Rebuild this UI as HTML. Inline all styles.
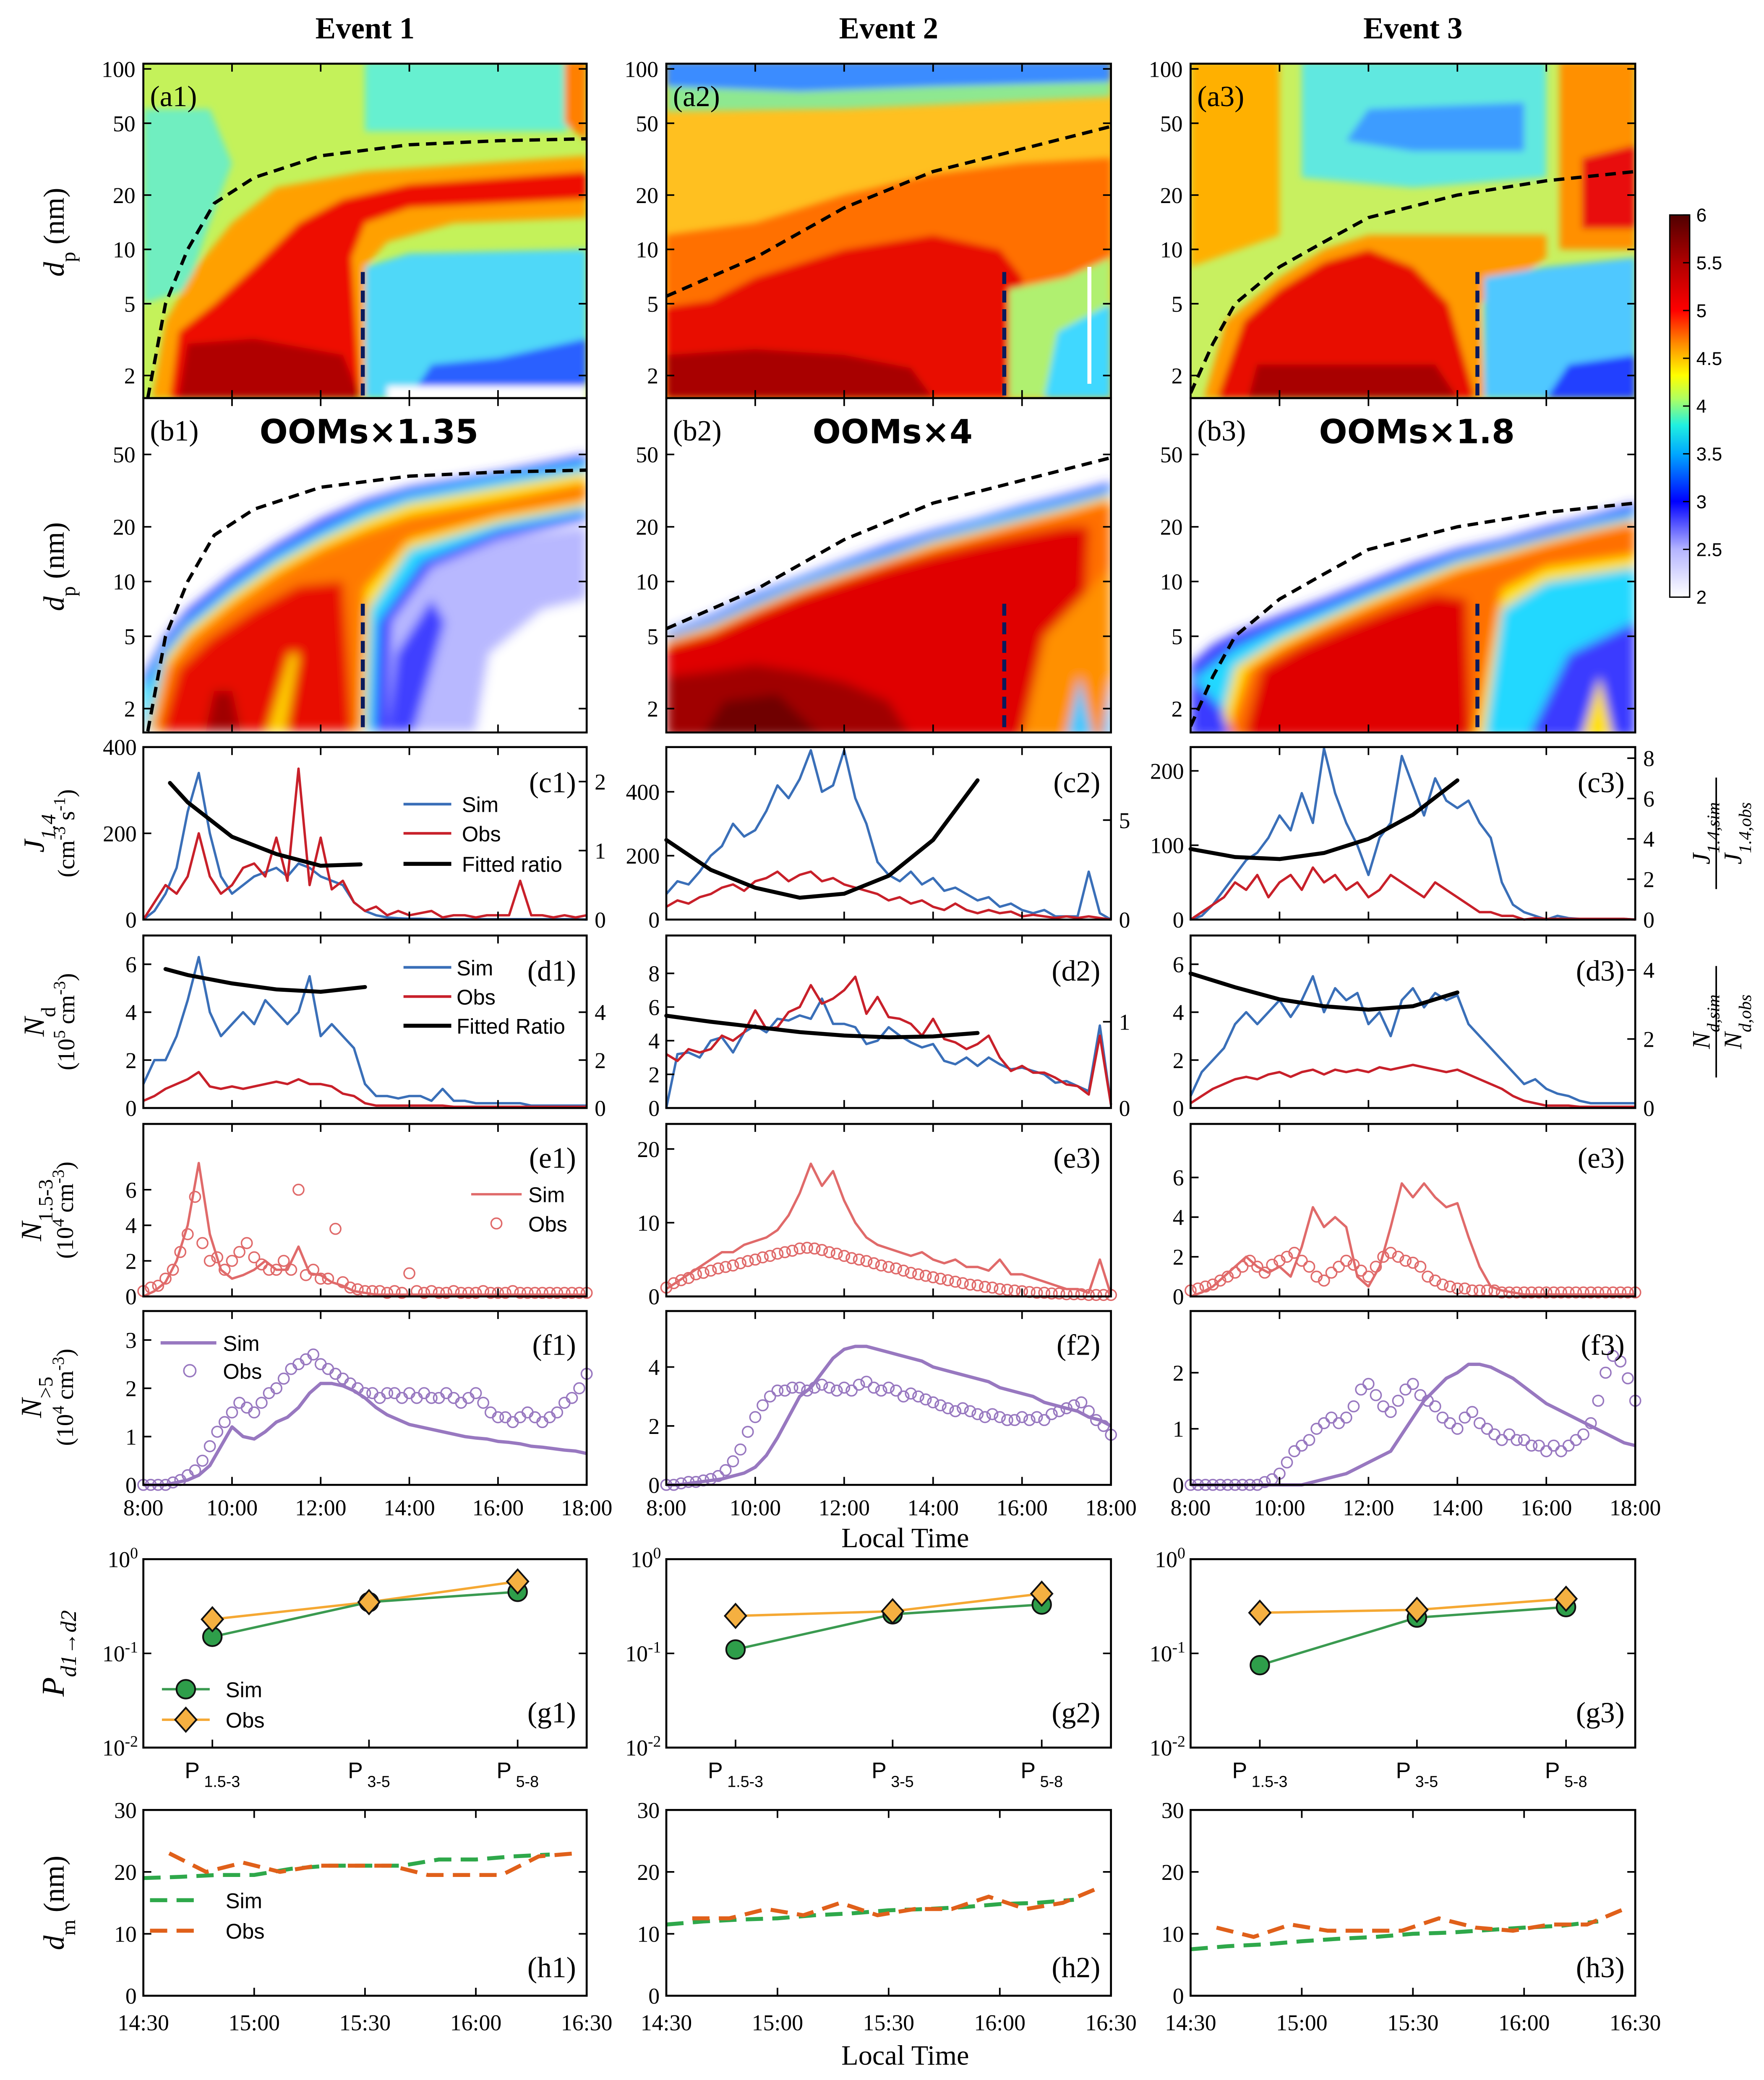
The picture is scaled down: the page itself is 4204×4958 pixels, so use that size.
<!DOCTYPE html>
<html><head><meta charset="utf-8"><title>NPF events figure</title>
<style>
html,body{margin:0;padding:0;background:#fff;}
svg{display:block;font-family:"Liberation Serif",serif;}
</style></head>
<body>
<svg id="fig" width="4204" height="4958" viewBox="0 0 1329 1567.5" preserveAspectRatio="none">
<defs>
<filter id="bl" x="-10%" y="-10%" width="120%" height="120%"><feGaussianBlur stdDeviation="2.5"/></filter>
<filter id="bl2" x="-10%" y="-10%" width="120%" height="120%"><feGaussianBlur stdDeviation="4"/></filter>
<linearGradient id="cbar" x1="0" y1="1" x2="0" y2="0">
<stop offset="0" stop-color="#ffffff"/><stop offset="0.125" stop-color="#b4b4ff"/><stop offset="0.25" stop-color="#0000ff"/>
<stop offset="0.375" stop-color="#00a8ff"/><stop offset="0.45" stop-color="#20f0e0"/><stop offset="0.52" stop-color="#b0ff60"/>
<stop offset="0.58" stop-color="#ffff00"/><stop offset="0.66" stop-color="#ff9000"/><stop offset="0.75" stop-color="#ff0000"/>
<stop offset="0.875" stop-color="#b00000"/><stop offset="1" stop-color="#500000"/></linearGradient>
</defs>
</svg>
<script>
// ---------------- data ----------------
const c1Sim=[0,20,60,120,250,340,200,100,60,80,100,110,120,100,130,120,100,90,80,40,20,10,5,3,2,2,1,1,1,1,1,1,1,1,1,1,1,1,1,1,0];
const c1Obs=[0,40,80,60,100,200,100,60,80,120,130,100,190,90,350,80,190,70,90,40,20,30,10,20,10,15,20,5,10,10,5,10,10,10,90,10,10,5,10,5,10];
const c1FitT=[8.6,9,10,11,12,12.9];
const c1Fit=[1.98,1.7,1.2,0.95,0.78,0.8];
const c2Sim=[80,120,110,150,200,230,300,260,280,340,420,380,440,530,400,420,530,380,300,180,140,120,150,110,130,90,100,80,60,70,40,50,30,20,30,10,10,10,150,20,0];
const c2Obs=[40,60,50,70,80,100,110,90,120,130,150,120,140,150,120,130,110,100,90,80,60,70,50,60,40,30,50,30,20,30,20,25,10,15,10,5,10,5,10,5,0];
const c2FitT=[8,9,10,11,12,13,14,15];
const c2Fit=[4.0,2.5,1.6,1.1,1.3,2.2,4.0,7.0];
const c3Sim=[0,5,20,40,60,80,90,110,140,120,170,130,230,170,130,100,60,110,130,220,180,140,190,160,150,160,130,110,50,20,10,5,0,5,2,1,1,1,1,1,0];
const c3Obs=[0,10,20,30,50,40,60,30,50,60,40,70,50,60,40,50,30,40,60,50,40,30,50,40,30,20,10,10,5,5,0,2,1,1,1,1,1,1,1,1,0];
const c3FitT=[8,9,10,11,12,13,14];
const c3Fit=[3.5,3.1,3.0,3.3,4.0,5.2,6.9];
const d1Sim=[1,2,2,3,4.5,6.3,4,3,3.5,4,3.5,4.5,4,3.5,4,5.5,3,3.5,3,2.5,1,0.5,0.5,0.4,0.5,0.5,0.3,0.8,0.3,0.3,0.2,0.2,0.2,0.2,0.2,0.1,0.1,0.1,0.1,0.1,0.1];
const d1Obs=[0.3,0.5,0.8,1.0,1.2,1.5,0.9,0.8,0.9,0.8,0.9,1.0,1.1,1.0,1.2,1.0,1.0,0.9,0.6,0.5,0.2,0.1,0.1,0.1,0.1,0.1,0.1,0.1,0.05,0.05,0.05,0.05,0.05,0.05,0.05,0.05,0.05,0.05,0.05,0.05,0.05];
const d1FitT=[8.5,9,10,11,12,13];
const d1Fit=[5.8,5.55,5.2,4.95,4.85,5.05];
const d2Sim=[0,3.2,3.3,3.0,4.0,4.2,3.3,4.5,4.9,4.5,5.3,5.2,5.5,5.3,6.5,5.0,5.0,4.8,3.8,4.0,4.8,4.3,3.9,3.6,3.8,2.8,2.6,3.0,2.5,3.0,2.6,2.3,2.4,2.2,2.0,1.5,1.6,1.3,1.0,4.9,0.2];
const d2Obs=[3.2,2.8,3.5,3.3,3.5,4.3,4.0,4.5,5.8,4.7,4.8,5.7,6.0,7.3,6.2,6.5,7.0,7.8,5.6,6.6,5.4,5.3,5.0,4.3,5.3,4.1,3.9,3.5,3.8,4.3,3.0,2.2,2.5,2.1,2.1,1.8,1.4,1.3,0.8,4.3,0.2];
const d2FitT=[8,9,10,11,12,13,14,15];
const d2Fit=[1.07,1.0,0.94,0.88,0.84,0.82,0.83,0.87];
const d3Sim=[0.5,1.5,2,2.5,3.5,4,3.5,4,4.5,3.8,4.5,5.5,4,5,4.5,4.8,3.5,4,3,4.5,5,4.2,4.8,4.5,4.7,3.5,3,2.5,2,1.5,1,1.2,0.8,0.6,0.5,0.3,0.2,0.2,0.2,0.2,0.2];
const d3Obs=[0.2,0.5,0.8,1.0,1.2,1.3,1.2,1.4,1.5,1.3,1.5,1.6,1.4,1.6,1.5,1.6,1.5,1.7,1.6,1.7,1.8,1.7,1.6,1.5,1.6,1.4,1.2,1.0,0.8,0.5,0.3,0.2,0.1,0.1,0.1,0.05,0.05,0.05,0.05,0.05,0.05];
const d3FitT=[8,9,10,11,12,13,14];
const d3Fit=[3.9,3.5,3.15,2.95,2.85,2.95,3.35];
const e1Sim=[0,0.3,0.8,2,4,7.5,3.5,1.5,1.0,1.2,1.5,2.0,1.5,1.5,2.8,1.3,1.2,0.8,0.6,0.3,0.2,0.1,0.1,0.1,0.1,0.1,0.1,0.1,0.1,0.1,0.1,0.1,0.1,0.1,0.1,0.1,0.1,0.1,0.1,0.1,0.1];
const e1Obs=[0.3,0.5,0.6,1.0,1.5,2.5,3.5,5.6,3.0,2.0,2.2,1.5,2.0,2.5,3.0,2.2,1.8,1.5,1.5,2.0,1.5,6.0,1.2,1.5,1.0,1.0,3.8,0.8,0.5,0.4,0.3,0.3,0.3,0.2,0.3,0.2,1.3,0.3,0.2,0.3,0.2,0.2,0.3,0.2,0.2,0.2,0.3,0.2,0.2,0.2,0.3,0.2,0.2,0.2,0.2,0.2,0.2,0.2,0.2,0.2,0.2];
const e2Sim=[1,2,3,4,5,6,6,7,7.5,8,9,11,14,18,15,17,13,10,8,7,6.5,6,5.5,6,5,4.5,5,4,4,3.5,5,3,3,2.5,2,1.5,1,1,0.5,5,0.2];
const e2Obs=[1.2,1.8,2.2,2.5,3.0,3.2,3.5,3.8,4.0,4.2,4.5,4.8,5.0,5.3,5.5,5.8,6.0,6.2,6.5,6.6,6.5,6.3,6.0,5.8,5.5,5.2,5.0,4.8,4.5,4.2,4.0,3.8,3.5,3.2,3.0,2.8,2.6,2.4,2.2,2.0,1.8,1.6,1.5,1.3,1.2,1.0,0.9,0.8,0.7,0.6,0.5,0.5,0.4,0.4,0.3,0.3,0.3,0.2,0.2,0.2,0.2];
const e3Sim=[0,0.2,0.5,1.0,1.5,2.0,1.5,1.2,1.5,1.0,2.5,4.5,3.5,4.0,3.5,1.0,0.5,1.5,3.5,5.7,5.0,5.7,5.0,4.5,4.7,3.0,1.5,0.5,0.3,0.2,0.1,0.1,0.1,0.1,0.1,0.1,0.1,0.1,0.1,0.1,0.1];
const e3Obs=[0.3,0.4,0.5,0.6,0.8,1.0,1.2,1.5,1.8,1.5,1.2,1.6,1.8,2.0,2.2,1.8,1.5,1.0,0.8,1.2,1.5,1.8,1.6,1.3,1.0,1.5,2.0,2.2,2.0,1.8,1.7,1.5,1.0,0.8,0.6,0.5,0.4,0.4,0.3,0.3,0.3,0.3,0.2,0.2,0.2,0.2,0.2,0.2,0.2,0.2,0.2,0.2,0.2,0.2,0.2,0.2,0.2,0.2,0.2,0.2,0.2];
const f1Sim=[0,0,0,0.05,0.1,0.2,0.4,0.8,1.2,1.0,0.95,1.1,1.3,1.4,1.6,1.9,2.1,2.1,2.05,1.95,1.8,1.6,1.45,1.35,1.25,1.2,1.15,1.1,1.05,1.0,0.97,0.95,0.9,0.88,0.85,0.8,0.78,0.75,0.72,0.7,0.65];
const f1Obs=[0,0,0,0,0.05,0.1,0.2,0.3,0.5,0.8,1.1,1.3,1.5,1.7,1.6,1.5,1.7,1.9,2.0,2.2,2.4,2.5,2.6,2.7,2.5,2.4,2.3,2.2,2.1,2.0,1.9,1.9,1.8,1.9,1.9,1.8,1.9,1.8,1.9,1.8,1.8,1.9,1.8,1.7,1.8,1.9,1.7,1.5,1.4,1.4,1.3,1.4,1.5,1.4,1.3,1.4,1.5,1.7,1.8,2.0,2.3];
const f2Sim=[0,0,0.05,0.1,0.15,0.2,0.3,0.4,0.6,1.0,1.6,2.3,3.0,3.3,3.8,4.3,4.6,4.7,4.7,4.6,4.5,4.4,4.3,4.2,4.0,3.9,3.8,3.7,3.6,3.5,3.3,3.2,3.1,3.0,2.8,2.7,2.6,2.5,2.3,2.2,2.0];
const f2Obs=[0,0,0.05,0.1,0.1,0.15,0.2,0.3,0.5,0.8,1.2,1.8,2.3,2.7,3.0,3.2,3.2,3.3,3.3,3.2,3.3,3.4,3.3,3.2,3.3,3.2,3.4,3.5,3.3,3.2,3.3,3.2,3.0,3.1,3.0,2.9,2.8,2.7,2.6,2.5,2.6,2.5,2.4,2.3,2.4,2.3,2.2,2.2,2.3,2.2,2.3,2.2,2.4,2.5,2.6,2.7,2.8,2.5,2.2,2.0,1.7];
const f3Sim=[0,0,0,0,0,0,0,0,0,0,0,0.05,0.1,0.15,0.2,0.3,0.4,0.5,0.6,0.9,1.2,1.5,1.7,1.9,2.0,2.15,2.15,2.1,2.0,1.9,1.75,1.6,1.45,1.35,1.25,1.15,1.05,0.95,0.85,0.75,0.7];
const f3Obs=[0,0,0,0,0,0,0,0,0,0,0.05,0.1,0.2,0.4,0.6,0.7,0.8,1.0,1.1,1.2,1.1,1.2,1.4,1.7,1.8,1.6,1.4,1.3,1.5,1.7,1.8,1.6,1.5,1.4,1.2,1.1,1.0,1.2,1.3,1.1,1.0,0.9,0.8,0.9,0.8,0.8,0.7,0.7,0.6,0.7,0.6,0.7,0.8,0.9,1.1,1.5,2.0,2.3,2.2,1.9,1.5];
const gCats=['1.5-3','3-5','5-8'];
const g1Sim=[0.15,0.35,0.45], g1Obs=[0.23,0.35,0.58];
const g2Sim=[0.11,0.26,0.33], g2Obs=[0.25,0.28,0.43];
const g3Sim=[0.075,0.24,0.31], g3Obs=[0.27,0.29,0.38];
const hMin=[5,15,25,35,45,55,65,75,85,95,105,115];
const h1Sim=[19,19.2,19.5,19.5,20.5,21,21,21,22,22,22.5,22.8];
const h1Obs=[23,20,21.5,20,21,21,21,19.5,19.5,19.5,22.5,23];
const h2Sim=[11.5,12,12.3,12.5,13,13.3,13.8,14,14.3,14.8,15,15.5];
const h2Obs=[12.5,12.5,14,13,15,13,14,14,16,14,15,17.5];
const h3Sim=[7.5,8,8.3,8.8,9.2,9.5,10,10.2,10.6,11,11.3,12];
const h3Obs=[11,9.5,11.5,10.5,10.5,10.5,12.5,11,10.5,11.5,11.5,14];
const fitCurveT=[[8.1,8.5,9,9.6,10.5,12,14,16,18],[8,10,12,14,16,18],[8,8.5,9,10,11,12,14,16,18]];
const fitCurveD=[[1.5,5,10,18,25,33,38,40,41],[5.5,9,17,27,36,48],[1.6,3,5,8,11,15,20,24,27]];
const markT=[12.95,15.6,14.45];

// ---------------- helpers ----------------
const svg=document.getElementById('fig');
const NS=svg.namespaceURI;
function mk(tag,attrs,name,parent){
  const el=document.createElementNS(NS,tag);
  for(const k in attrs) el.setAttribute(k,attrs[k]);
  
  
  (parent||svg).appendChild(el);return el;
}
function txt(x,y,s,name,opt){
  opt=opt||{};
  const a={x:x,y:y,'font-size':opt.size||17,'text-anchor':opt.anchor||'middle',fill:opt.fill||'#000'};
  if(opt.weight)a['font-weight']=opt.weight;
  if(opt.family)a['font-family']=opt.family;
  if(opt.style)a['font-style']=opt.style;
  if(opt.rot!==undefined)a.transform='rotate('+opt.rot+' '+x+' '+y+')';
  const t=mk('text',a,name,opt.parent);
  if(typeof s==='string'){t.textContent=s;}
  else{ s.forEach(p=>{const ts=document.createElementNS(NS,'tspan');ts.textContent=p[0];
    if(p[1]==='sub'){ts.setAttribute('baseline-shift','sub');ts.setAttribute('font-size',(opt.size||17)*0.7);}
    if(p[1]==='sup'){ts.setAttribute('baseline-shift','super');ts.setAttribute('font-size',(opt.size||17)*0.7);}
    if(p[1]==='i'){ts.setAttribute('font-style','italic');}
    if(p[1]==='isub'){ts.setAttribute('baseline-shift','sub');ts.setAttribute('font-size',(opt.size||17)*0.7);ts.setAttribute('font-style','italic');}
    t.appendChild(ts);});}
  return t;
}
const cols=[[108,442],[502,837],[897,1232]];
const tx=(c,t)=>cols[c][0]+(t-8)/10*(cols[c][1]-cols[c][0]);
const ya=d=>283-(Math.log10(d)-Math.log10(2))*136;
const yb=d=>534-(Math.log10(d)-Math.log10(2))*137;
function lin(top,bot,max){return v=>bot-v/max*(bot-top);}
function pathFrom(pts){return pts.map((p,i)=>(i?'L':'M')+p[0].toFixed(2)+','+p[1].toFixed(2)).join('');}

// ---------------- heatmaps ----------------
const heatA=[
 {base:'#c4f25a',layers:[
  ['#70eec0',[[8,5],[8,60],[9.5,60],[10,30],[9.4,12],[9,6]]],
  ['#66f0d0',[[13,45],[13,110],[18,110],[18,55],[17.5,45]]],
  ['#ff8000',[[17.5,50],[17.5,110],[18,110],[18,40]]],
  ['#ffa000',[[8.2,1.5],[8.5,4],[9.2,8],[10,14],[11,22],[13,27],[18,33],[18,15],[15,14],[13.5,11],[13,8],[13,1.5]]],
  ['#ee1000',[[8.6,1.5],[8.8,3.5],[9.6,5],[10.5,8],[11.5,14],[12.5,19],[14,23],[18,27],[18,19],[14,17],[13,14],[12.7,9],[12.9,1.5]]],
  ['#b00000',[[8.8,1.5],[9,3],[10.5,3.2],[12.5,2.6],[12.9,1.5]]],
  ['#50d8f8',[[13,1.5],[13,8],[14,9.5],[18,10],[18,1.5]]],
  ['#2a60ff',[[14,1.5],[14.5,2.3],[16,2.5],[18,3.2],[18,1.5]]],
  ['#ffffff',[[13.5,1.4],[13.5,1.75],[18,1.75],[18,1.4]]]]},
 {base:'#ffc020',layers:[
  ['#8ee890',[[8,58],[8,80],[11,75],[14,80],[18,85],[18,70],[12,60]]],
  ['#3a8cff',[[8,80],[8,110],[18,110],[18,85],[14,80],[11,75]]],
  ['#ff7000',[[8,1.5],[8,12],[10,14],[12,20],[14,26],[16,30],[18,32],[18,1.5]]],
  ['#e81000',[[8,1.5],[8,4.8],[9,5.2],[10,7],[12,10],[14,12],[15.5,10],[16,7],[16,1.5]]],
  ['#a80000',[[8,1.5],[8,2.6],[10,2.8],[12,2.6],[13.5,2.2],[14,1.5]]],
  ['#b0f070',[[15.7,1.5],[15.7,6],[17,7],[18,9],[18,1.5]]],
  ['#40d8ff',[[16.5,1.5],[16.8,3.5],[18,5],[18,1.5]]]]},
 {base:'#c8f060',layers:[
  ['#ffb000',[[8,8],[8,110],[10,110],[10,12]]],
  ['#60e8e0',[[10.5,25],[10.5,110],[16,110],[16,25],[13,22]]],
  ['#3c9cff',[[11.5,40],[12,60],[15.5,65],[15.5,35],[13,35]]],
  ['#ff9000',[[16.3,10],[16.3,110],[18,110],[18,10]]],
  ['#e81010',[[16.8,13],[16.8,32],[18,38],[18,13]]],
  ['#ff9a00',[[8.3,1.5],[8.8,4],[10,7],[11,10],[12,12],[14,12],[16,12],[16,9],[14.5,5],[14.6,1.5]]],
  ['#e81000',[[8.6,1.5],[9.2,4],[10,6],[11,8.5],[12,10],[13,8],[13.8,5],[14.4,1.5]]],
  ['#a80000',[[9.3,1.5],[9.5,2.3],[13.5,2.3],[14,1.5]]],
  ['#50c8ff',[[14.6,1.5],[14.6,7],[16,8],[18,9],[18,1.5]]],
  ['#2040ff',[[16,1.5],[16.5,2.3],[18,2.6],[18,1.5]]]]}
];
const heatB=[
 [['#b8b8ff',[[13,1.5],[13,12],[15,16],[18,20],[18,1.5]]],
  ['#ffffff',[[15.5,1.5],[15.8,4],[17,7],[18,8],[18,1.5]]],
  ['#3a3aff',[[8,1.5],[8,3],[8.5,5],[9,7],[10,11],[11,16],[12,22],[13,28],[14,33],[16,40],[18,50],[18,22],[16,17],[14.5,12],[13.6,6],[13.5,1.5]]],
  ['#20d8ff',[[8,1.5],[8,2.5],[8.5,4.3],[9,6],[10,9.5],[11,14],[12,19],[13,25],[14,30],[16,37],[18,45],[18,24],[16,19],[14.3,13],[13.3,6],[13.2,1.5]]],
  ['#ffe000',[[8.1,1.5],[8.5,3.8],[9,5.4],[10,8.5],[11,12.5],[12,17],[13,22],[14,27],[16,33],[18,40],[18,26],[16,21],[14,15],[13.1,7],[13,1.5]]],
  ['#ff7a00',[[8.2,1.5],[8.5,3.3],[9,4.8],[10,7.5],[11,11],[12,15],[13,19],[14,23],[16,28],[18,35],[18,28],[16,23],[14,17],[13,9],[12.9,1.5]]],
  ['#e80800',[[8.4,1.5],[8.8,3.3],[9.5,4.8],[10.5,7],[11.5,9.5],[12.5,10],[12.6,4],[12.7,1.5]]],
  ['#a00000',[[9.4,1.5],[9.6,2.5],[10,2.5],[10.2,1.5]]],
  ['#ffd000',[[10.8,1.5],[11.3,4],[11.5,4],[11.2,1.5]]],
  ['#4040ff',[[13.5,1.5],[13.7,4],[14.5,8],[14.8,6],[14.1,1.5]]]],
 [['#3a3aff',[[8,5.3],[9,6.5],[10,8.5],[11,10.5],[12,13],[13,16],[14,19],[15,22],[16,26],[17,30],[18,35],[18,1.4],[8,1.4]]],
  ['#20d8ff',[[8,5],[9,6],[10,7.8],[11,9.8],[12,12],[13,14.5],[14,17.5],[15,20.5],[16,24],[17,27.5],[18,32],[18,1.4],[8,1.4]]],
  ['#ffe000',[[8,4.8],[9,5.7],[10,7.3],[11,9.2],[12,11.2],[13,13.5],[14,16.5],[15,19],[16,22],[17,25.5],[18,30],[18,1.4],[8,1.4]]],
  ['#ff7000',[[8,4.6],[9,5.4],[10,7],[11,8.8],[12,10.7],[13,13],[14,15.5],[15,18],[16,21],[17,24],[18,28],[18,1.4],[8,1.4]]],
  ['#e00000',[[8,4.4],[9,5.1],[10,6.6],[11,8.3],[12,10],[13,12],[14,14],[15,16],[16,18],[17,20],[17.5,20],[17.3,1.4],[8,1.4]]],
  ['#a00000',[[8,1.4],[8,3],[9,3.2],[10,3.5],[11,3.2],[12,2.8],[13,2.2],[13.5,1.4]]],
  ['#700000',[[8.8,1.4],[9.3,2.2],[10.5,2.4],[11.5,1.4]]],
  ['#ff9000',[[16,1.4],[16.5,5],[17.3,8],[18,12],[18,1.4]]],
  ['#40c8ff',[[17,1.4],[17.3,3],[17.6,1.4]]],
  ['#40c8ff',[[17.8,1.4],[18,3],[18,1.4]]]],
 [['#3a3aff',[[8,3.5],[8.5,4.5],[9,5.2],[10,6.5],[11,8],[12,10],[13,12.5],[14,15],[15,17],[16,20],[17,23],[18,27],[18,1.4],[8,1.4]]],
  ['#20d8ff',[[8,2.8],[8.5,3.5],[9,4.3],[10,5.6],[11,7],[12,8.8],[13,11],[14,13.5],[15,15.5],[16,18],[17,21],[18,24],[18,1.4],[8.3,1.4]]],
  ['#ffe000',[[8.6,1.4],[9,3.4],[10,4.8],[11,6.2],[12,8],[13,10],[14,12.5],[15,14.5],[16,17],[17,19.5],[18,22],[18,12],[16,10],[15,7],[14.6,1.4]]],
  ['#ff7000',[[8.8,1.4],[9.3,3.3],[10,4.3],[11,5.7],[12,7.3],[13,9.2],[14,11.5],[15,13.5],[16,16],[17,18.5],[18,21],[18,14],[16,12],[15,9],[14.4,1.4]]],
  ['#e00000',[[9.2,1.4],[9.6,3.3],[10.5,4.4],[11.5,5.6],[12.5,7],[13.5,8.5],[14.2,8],[14.3,1.4]]],
  ['#20d8ff',[[14.6,1.4],[15,6],[16,9],[18,11],[18,8],[16.5,6],[15.5,1.4]]],
  ['#3a3aff',[[15.6,1.4],[16.5,4],[18,6],[18,1.4]]],
  ['#ffe000',[[16.8,1.4],[17.2,3],[17.5,1.4]]],
  ['#3a3aff',[[8,1.4],[8,3],[8.7,2],[8.9,1.4]]]]
];

function heatPanel(c,row){
  const x0=cols[c][0],x1=cols[c][1];
  const top=row==='a'?48:300,bot=row==='a'?300:552;
  const yf=row==='a'?ya:yb;
  const cp=mk('clipPath',{id:'clip'+row+c},'clip',svg.querySelector('defs'));
  mk('rect',{x:x0,y:top,width:x1-x0,height:bot-top},'clip-rect',cp);
  const g=mk('g',{'clip-path':'url(#clip'+row+c+')'},'heatmap-'+row+(c+1));
  if(row==='a'){
    mk('rect',{x:x0,y:top,width:x1-x0,height:bot-top,fill:heatA[c].base},'heatmap-background',g);
  }
  const inner=mk('g',{filter:row==='a'?'url(#bl)':'url(#bl2)'},'heatmap-layers',g);
  const L=row==='a'?heatA[c].layers:heatB[c];
  L.forEach(l=>{
    mk('path',{d:pathFrom(l[1].map(p=>[tx(c,p[0]),yf(p[1])]))+'Z',fill:l[0]},'heatmap-region',inner);
  });
  if(row==='a'&&c===1){
    mk('rect',{x:tx(1,17.47),y:ya(8),width:3,height:ya(1.8)-ya(8),fill:'#fff'},'data-gap',g);
  }
  // growth curve
  const pts=fitCurveT[c].map((t,i)=>[tx(c,t),yf(fitCurveD[c][i])]);
  mk('path',{d:pathFrom(pts),fill:'none',stroke:'#000','stroke-width':2.5,'stroke-dasharray':'8,5'},'growth-curve',g);
  // marker line
  mk('line',{x1:tx(c,markT[c]),x2:tx(c,markT[c]),y1:row==='a'?205:455,y2:bot,stroke:'#0a1a5c','stroke-width':3,'stroke-dasharray':'9,5'},'time-marker',g);
  // frame
  mk('rect',{x:x0,y:top,width:x1-x0,height:bot-top,fill:'none',stroke:'#000','stroke-width':1.5},'panel-frame');
  // ticks
  const ticksD=row==='a'?[2,5,10,20,50,100]:[2,5,10,20,50];
  ticksD.forEach(d=>{
    const y=yf(d);
    mk('line',{x1:x0,x2:x0+6,y1:y,y2:y,stroke:'#000','stroke-width':1.2},'y-tick');
    mk('line',{x1:x1,x2:x1-6,y1:y,y2:y,stroke:'#000','stroke-width':1.2},'y-tick');
    txt(x0-6,y+6,String(d),'y-tick-label',{anchor:'end'});
  });
  [10,12,14,16].forEach(t=>{
    mk('line',{x1:tx(c,t),x2:tx(c,t),y1:bot,y2:bot-6,stroke:'#000','stroke-width':1.2},'x-tick');
    mk('line',{x1:tx(c,t),x2:tx(c,t),y1:top,y2:top+6,stroke:'#000','stroke-width':1.2},'x-tick');
  });
  txt(x0+5,top+32,'('+row+(c+1)+')','panel-label',{anchor:'start',size:22});
}
for(let c=0;c<3;c++){heatPanel(c,'a');heatPanel(c,'b');}
['OOMs×1.35','OOMs×4','OOMs×1.8'].forEach((s,c)=>{
  txt((cols[c][0]+cols[c][1])/2+3,334,s,'ooms-factor-title',{size:25,weight:'bold',family:'"DejaVu Sans",sans-serif'});
});

// ---------------- line panels ----------------
function frame(c,top,bot){
  mk('rect',{x:cols[c][0],y:top,width:cols[c][1]-cols[c][0],height:bot-top,fill:'none',stroke:'#000','stroke-width':1.5},'panel-frame');
}
function xTicks(c,top,bot,labels){
  [8,10,12,14,16,18].forEach(t=>{
    const x=tx(c,t);
    mk('line',{x1:x,x2:x,y1:bot,y2:bot-6,stroke:'#000','stroke-width':1.2},'x-tick');
    mk('line',{x1:x,x2:x,y1:top,y2:top+6,stroke:'#000','stroke-width':1.2},'x-tick');
    if(labels) txt(x,bot+23,t+':00','x-tick-label');
  });
}
function yTicks(c,top,bot,max,vals,side){
  const f=lin(top,bot,max);
  vals.forEach(v=>{
    const y=f(v);
    if(side==='left'){
      mk('line',{x1:cols[c][0],x2:cols[c][0]+6,y1:y,y2:y,stroke:'#000','stroke-width':1.2},'y-tick');
      txt(cols[c][0]-5,y+6,String(v),'y-tick-label',{anchor:'end'});
    } else {
      mk('line',{x1:cols[c][1],x2:cols[c][1]-6,y1:y,y2:y,stroke:'#000','stroke-width':1.2},'y-tick-right');
      txt(cols[c][1]+6,y+6,String(v),'y-tick-label-right',{anchor:'start'});
    }
  });
}
function series(c,arr,top,bot,max,color,w,name){
  const f=lin(top,bot,max);
  const pts=arr.map((v,i)=>[tx(c,8+i*10/(arr.length-1)),f(v)]);
  mk('path',{d:pathFrom(pts),fill:'none',stroke:color,'stroke-width':w,'stroke-linejoin':'round'},name);
}
function seriesT(c,ts,arr,top,bot,max,color,w,name){
  const f=lin(top,bot,max);
  const pts=arr.map((v,i)=>[tx(c,ts[i]),f(v)]);
  mk('path',{d:pathFrom(pts),fill:'none',stroke:color,'stroke-width':w,'stroke-linecap':'round'},name);
}
function circles(c,arr,top,bot,max,color,name){
  const f=lin(top,bot,max);
  arr.forEach((v,i)=>{
    mk('circle',{cx:tx(c,8+i*10/(arr.length-1)),cy:f(v),r:4,fill:'none',stroke:color,'stroke-width':1.1},name);
  });
}
const BL='#3a6fb8',RD='#c8202a',PK='#e06a6a',PU='#9878c0';
// c row
const cRow=[[c1Sim,c1Obs,c1FitT,c1Fit,400,[0,200,400],2.5,[0,1,2]],[c2Sim,c2Obs,c2FitT,c2Fit,540,[0,200,400],8.67,[0,5]],[c3Sim,c3Obs,c3FitT,c3Fit,232,[0,100,200],8.55,[0,2,4,6,8]]];
cRow.forEach((r,c)=>{
  const top=563,bot=693;
  series(c,r[0],top,bot,r[4],BL,1.8,'j-sim-line');
  series(c,r[1],top,bot,r[4],RD,1.8,'j-obs-line');
  seriesT(c,r[2],r[3],top,bot,r[6],'#000',3,'j-fitted-ratio-line');
  frame(c,top,bot);xTicks(c,top,bot,false);
  yTicks(c,top,bot,r[4],r[5],'left');yTicks(c,top,bot,r[6],r[7],'right');
  txt(cols[c][1]-8,597,'(c'+(c+1)+')','panel-label',{anchor:'end',size:22});
});
// d row
const dRow=[[d1Sim,d1Obs,d1FitT,d1Fit,7.2,[0,2,4,6],7.2,[0,2,4]],[d2Sim,d2Obs,d2FitT,d2Fit,10.25,[0,2,4,6,8],2.0,[0,1]],[d3Sim,d3Obs,d3FitT,d3Fit,7.2,[0,2,4,6],5.0,[0,2,4]]];
dRow.forEach((r,c)=>{
  const top=705,bot=835;
  series(c,r[0],top,bot,r[4],BL,1.8,'nd-sim-line');
  series(c,r[1],top,bot,r[4],RD,1.8,'nd-obs-line');
  seriesT(c,r[2],r[3],top,bot,r[6],'#000',3,'nd-fitted-ratio-line');
  frame(c,top,bot);xTicks(c,top,bot,false);
  yTicks(c,top,bot,r[4],r[5],'left');yTicks(c,top,bot,r[6],r[7],'right');
  txt(cols[c][1]-8,739,'(d'+(c+1)+')','panel-label',{anchor:'end',size:22});
});
// e row
const eRow=[[e1Sim,e1Obs,9.7,[0,2,4,6]],[e2Sim,e2Obs,23.4,[0,10,20]],[e3Sim,e3Obs,8.7,[0,2,4,6]]];
eRow.forEach((r,c)=>{
  const top=847,bot=977;
  circles(c,r[1],top,bot,r[2],PK,'n13-obs-marker');
  series(c,r[0],top,bot,r[2],PK,1.8,'n13-sim-line');
  frame(c,top,bot);xTicks(c,top,bot,false);
  yTicks(c,top,bot,r[2],r[3],'left');
  txt(cols[c][1]-8,880,c===0?'(e1)':'(e3)','panel-label',{anchor:'end',size:22});
});
// f row
const fRow=[[f1Sim,f1Obs,3.6,[0,1,2,3]],[f2Sim,f2Obs,5.9,[0,2,4]],[f3Sim,f3Obs,3.1,[0,1,2]]];
fRow.forEach((r,c)=>{
  const top=988,bot=1119;
  circles(c,r[1],top,bot,r[2],PU,'n5-obs-marker');
  series(c,r[0],top,bot,r[2],PU,2.5,'n5-sim-line');
  frame(c,top,bot);xTicks(c,top,bot,true);
  yTicks(c,top,bot,r[2],r[3],'left');
  txt(cols[c][1]-8,1021,'(f'+(c+1)+')','panel-label',{anchor:'end',size:22});
});
txt(682,1166,'Local Time','x-axis-title',{size:21});

// g row
const yg=v=>1317-(Math.log10(v)+2)*71;
const gx=[52,170,282];
[[g1Sim,g1Obs],[g2Sim,g2Obs],[g3Sim,g3Obs]].forEach((r,c)=>{
  const w=cols[c][1]-cols[c][0];
  const xs=gCats.map((k,i)=>cols[c][0]+gx[i]/334*w);
  mk('path',{d:pathFrom(r[1].map((v,i)=>[xs[i],yg(v)])),fill:'none',stroke:'#f5a833','stroke-width':1.8},'p-obs-line');
  mk('path',{d:pathFrom(r[0].map((v,i)=>[xs[i],yg(v)])),fill:'none',stroke:'#3a9a50','stroke-width':1.8},'p-sim-line');
  r[0].forEach((v,i)=>{mk('circle',{cx:xs[i],cy:yg(v),r:7,fill:'#2e9e4a',stroke:'#111','stroke-width':1.3},'p-sim-marker');});
  r[1].forEach((v,i)=>{const x=xs[i],y=yg(v);
    mk('path',{d:'M'+x+','+(y-9)+'L'+(x+8)+','+y+'L'+x+','+(y+9)+'L'+(x-8)+','+y+'Z',fill:'#f5b041',stroke:'#111','stroke-width':1.3},'p-obs-marker');});
  mk('rect',{x:cols[c][0],y:1175,width:w,height:142,fill:'none',stroke:'#000','stroke-width':1.5},'panel-frame');
  [0,-1,-2].forEach(e=>{
    const y=yg(Math.pow(10,e));
    mk('line',{x1:cols[c][0],x2:cols[c][0]+6,y1:y,y2:y,stroke:'#000','stroke-width':1.2},'y-tick');
    mk('line',{x1:cols[c][1],x2:cols[c][1]-6,y1:y,y2:y,stroke:'#000','stroke-width':1.2},'y-tick');
    txt(cols[c][0]-4,y+6,[['10'],[String(e),'sup']],'y-tick-label',{anchor:'end'});
  });
  gCats.forEach((k,i)=>{
    mk('line',{x1:xs[i],x2:xs[i],y1:1317,y2:1311,stroke:'#000','stroke-width':1.2},'x-tick');
    txt(xs[i],1340,[['P'],[' '+k,'sub']],'x-category-label',{size:17,family:'"Liberation Sans",sans-serif'});
  });
  txt(cols[c][1]-8,1298,'(g'+(c+1)+')','panel-label',{anchor:'end',size:22});
});
// h row
const hy=lin(1364,1504,30);
[[h1Sim,h1Obs],[h2Sim,h2Obs],[h3Sim,h3Obs]].forEach((r,c)=>{
  const w=cols[c][1]-cols[c][0];
  const hx=m=>cols[c][0]+m/120*w;
  mk('path',{d:pathFrom(r[0].map((v,i)=>[hx(hMin[i]-5+(i===0?0:0)),hy(v)])),fill:'none',stroke:'#2ea84a','stroke-width':3,'stroke-dasharray':'13,7'},'dm-sim-line');
  mk('path',{d:pathFrom(r[1].map((v,i)=>[hx(hMin[i]+2),hy(v)])),fill:'none',stroke:'#e0601a','stroke-width':3,'stroke-dasharray':'13,7'},'dm-obs-line');
  mk('rect',{x:cols[c][0],y:1364,width:w,height:140,fill:'none',stroke:'#000','stroke-width':1.5},'panel-frame');
  [0,10,20,30].forEach(v=>{
    mk('line',{x1:cols[c][0],x2:cols[c][0]+6,y1:hy(v),y2:hy(v),stroke:'#000','stroke-width':1.2},'y-tick');
    mk('line',{x1:cols[c][1],x2:cols[c][1]-6,y1:hy(v),y2:hy(v),stroke:'#000','stroke-width':1.2},'y-tick');
    txt(cols[c][0]-5,hy(v)+6,String(v),'y-tick-label',{anchor:'end'});
  });
  ['14:30','15:00','15:30','16:00','16:30'].forEach((s,i)=>{
    const x=hx(i*30);
    mk('line',{x1:x,x2:x,y1:1504,y2:1498,stroke:'#000','stroke-width':1.2},'x-tick');
    mk('line',{x1:x,x2:x,y1:1364,y2:1370,stroke:'#000','stroke-width':1.2},'x-tick');
    txt(x,1530,s,'x-tick-label');
  });
  txt(cols[c][1]-8,1490,'(h'+(c+1)+')','panel-label',{anchor:'end',size:22});
});
txt(682,1556,'Local Time','x-axis-title',{size:21});

// ---------------- titles, axis labels, legends ----------------
['Event 1','Event 2','Event 3'].forEach((s,c)=>txt((cols[c][0]+cols[c][1])/2,29,s,'event-title',{size:23,weight:'bold'}));
txt(48,175,[['d','i'],['p','sub'],[' (nm)']],'y-axis-title',{size:22,rot:-90});
txt(48,427,[['d','i'],['p','sub'],[' (nm)']],'y-axis-title',{size:22,rot:-90});
txt(33,628,[['J','i'],['1.4','isub']],'y-axis-title',{size:22,rot:-90});
txt(56,628,[['(cm'],['-3','sup'],[' s'],['-1','sup'],[')']],'y-axis-unit',{size:18,rot:-90});
txt(33,770,[['N','i'],['d','sub']],'y-axis-title',{size:22,rot:-90});
txt(56,770,[['(10'],['5','sup'],[' cm'],['-3','sup'],[')']],'y-axis-unit',{size:18,rot:-90});
txt(31,912,[['N','i'],['1.5-3','sub']],'y-axis-title',{size:22,rot:-90});
txt(55,912,[['(10'],['4','sup'],[' cm'],['-3','sup'],[')']],'y-axis-unit',{size:18,rot:-90});
txt(31,1053,[['N','i'],['>5','sub']],'y-axis-title',{size:22,rot:-90});
txt(55,1053,[['(10'],['4','sup'],[' cm'],['-3','sup'],[')']],'y-axis-unit',{size:18,rot:-90});
txt(48,1246,[['P','i'],['d1→d2','isub']],'y-axis-title',{size:24,rot:-90});
txt(48,1434,[['d','i'],['m','sub'],[' (nm)']],'y-axis-title',{size:22,rot:-90});
// right fraction labels
function frac(cx,cy,num,den,name){
  const g=mk('g',{transform:'rotate(-90 '+cx+' '+cy+')'},name);
  txt(cx,cy-5,num,'fraction-numerator',{size:19,parent:g});
  mk('line',{x1:cx-42,x2:cx+42,y1:cy,y2:cy,stroke:'#000','stroke-width':1.2},'fraction-bar',g);
  txt(cx,cy+19,den,'fraction-denominator',{size:19,parent:g});
}
frac(1293,628,[['J','i'],['1.4,sim','isub']],[['J','i'],['1.4,obs','isub']],'ratio-axis-title-j');
frac(1293,770,[['N','i'],['d,sim','isub']],[['N','i'],['d,obs','isub']],'ratio-axis-title-nd');
// legends
function legLine(x1,x2,y,color,w,dash,label,tx0,name){
  const a={x1:x1,x2:x2,y1:y,y2:y,stroke:color,'stroke-width':w};
  if(dash)a['stroke-dasharray']=dash;
  mk('line',a,name+'-swatch');
  txt(tx0,y+6,label,name+'-label',{anchor:'start',size:16,family:'"Liberation Sans",sans-serif'});
}
legLine(304,340,606,BL,2,null,'Sim',348,'legend-sim');
legLine(304,340,628,RD,2,null,'Obs',348,'legend-obs');
legLine(304,340,651,'#000',3,null,'Fitted ratio',348,'legend-fitted');
legLine(304,340,729,BL,2,null,'Sim',344,'legend-sim');
legLine(304,340,751,RD,2,null,'Obs',344,'legend-obs');
legLine(304,340,773,'#000',3,null,'Fitted Ratio',344,'legend-fitted');
legLine(355,393,900,PK,1.8,null,'Sim',398,'legend-sim');
mk('circle',{cx:374,cy:922,r:4,fill:'none',stroke:PK,'stroke-width':1.1},'legend-obs-marker');
txt(398,928,'Obs','legend-obs-label',{anchor:'start',size:16,family:'"Liberation Sans",sans-serif'});
legLine(121,163,1012,PU,2.5,null,'Sim',168,'legend-sim');
mk('circle',{cx:143,cy:1033,r:4.5,fill:'none',stroke:PU,'stroke-width':1.1},'legend-obs-marker');
txt(168,1039,'Obs','legend-obs-label',{anchor:'start',size:16,family:'"Liberation Sans",sans-serif'});
legLine(122,158,1273,'#3a9a50',1.8,null,'Sim',170,'legend-sim');
mk('circle',{cx:140,cy:1273,r:7,fill:'#2e9e4a',stroke:'#111','stroke-width':1.3},'legend-sim-marker');
legLine(122,158,1296,'#f5a833',1.8,null,'Obs',170,'legend-obs');
mk('path',{d:'M140,1287L148,1296L140,1305L132,1296Z',fill:'#f5b041',stroke:'#111','stroke-width':1.3},'legend-obs-marker');
legLine(113,153,1432,'#2ea84a',3,'13,7','Sim',170,'legend-sim');
legLine(113,153,1455,'#e0601a',3,'13,7','Obs',170,'legend-obs');
// colorbar
mk('rect',{x:1258,y:162,width:15,height:288,fill:'url(#cbar)',stroke:'#000','stroke-width':1},'colorbar');
['2','2.5','3','3.5','4','4.5','5','5.5','6'].forEach((s,i)=>{
  const y=450-i*36;
  mk('line',{x1:1268,x2:1273,y1:y,y2:y,stroke:'#000','stroke-width':1},'colorbar-tick');
  txt(1278,y+5,s,'colorbar-tick-label',{anchor:'start',size:14,family:'"Liberation Sans",sans-serif'});
});
</script>
</body></html>
